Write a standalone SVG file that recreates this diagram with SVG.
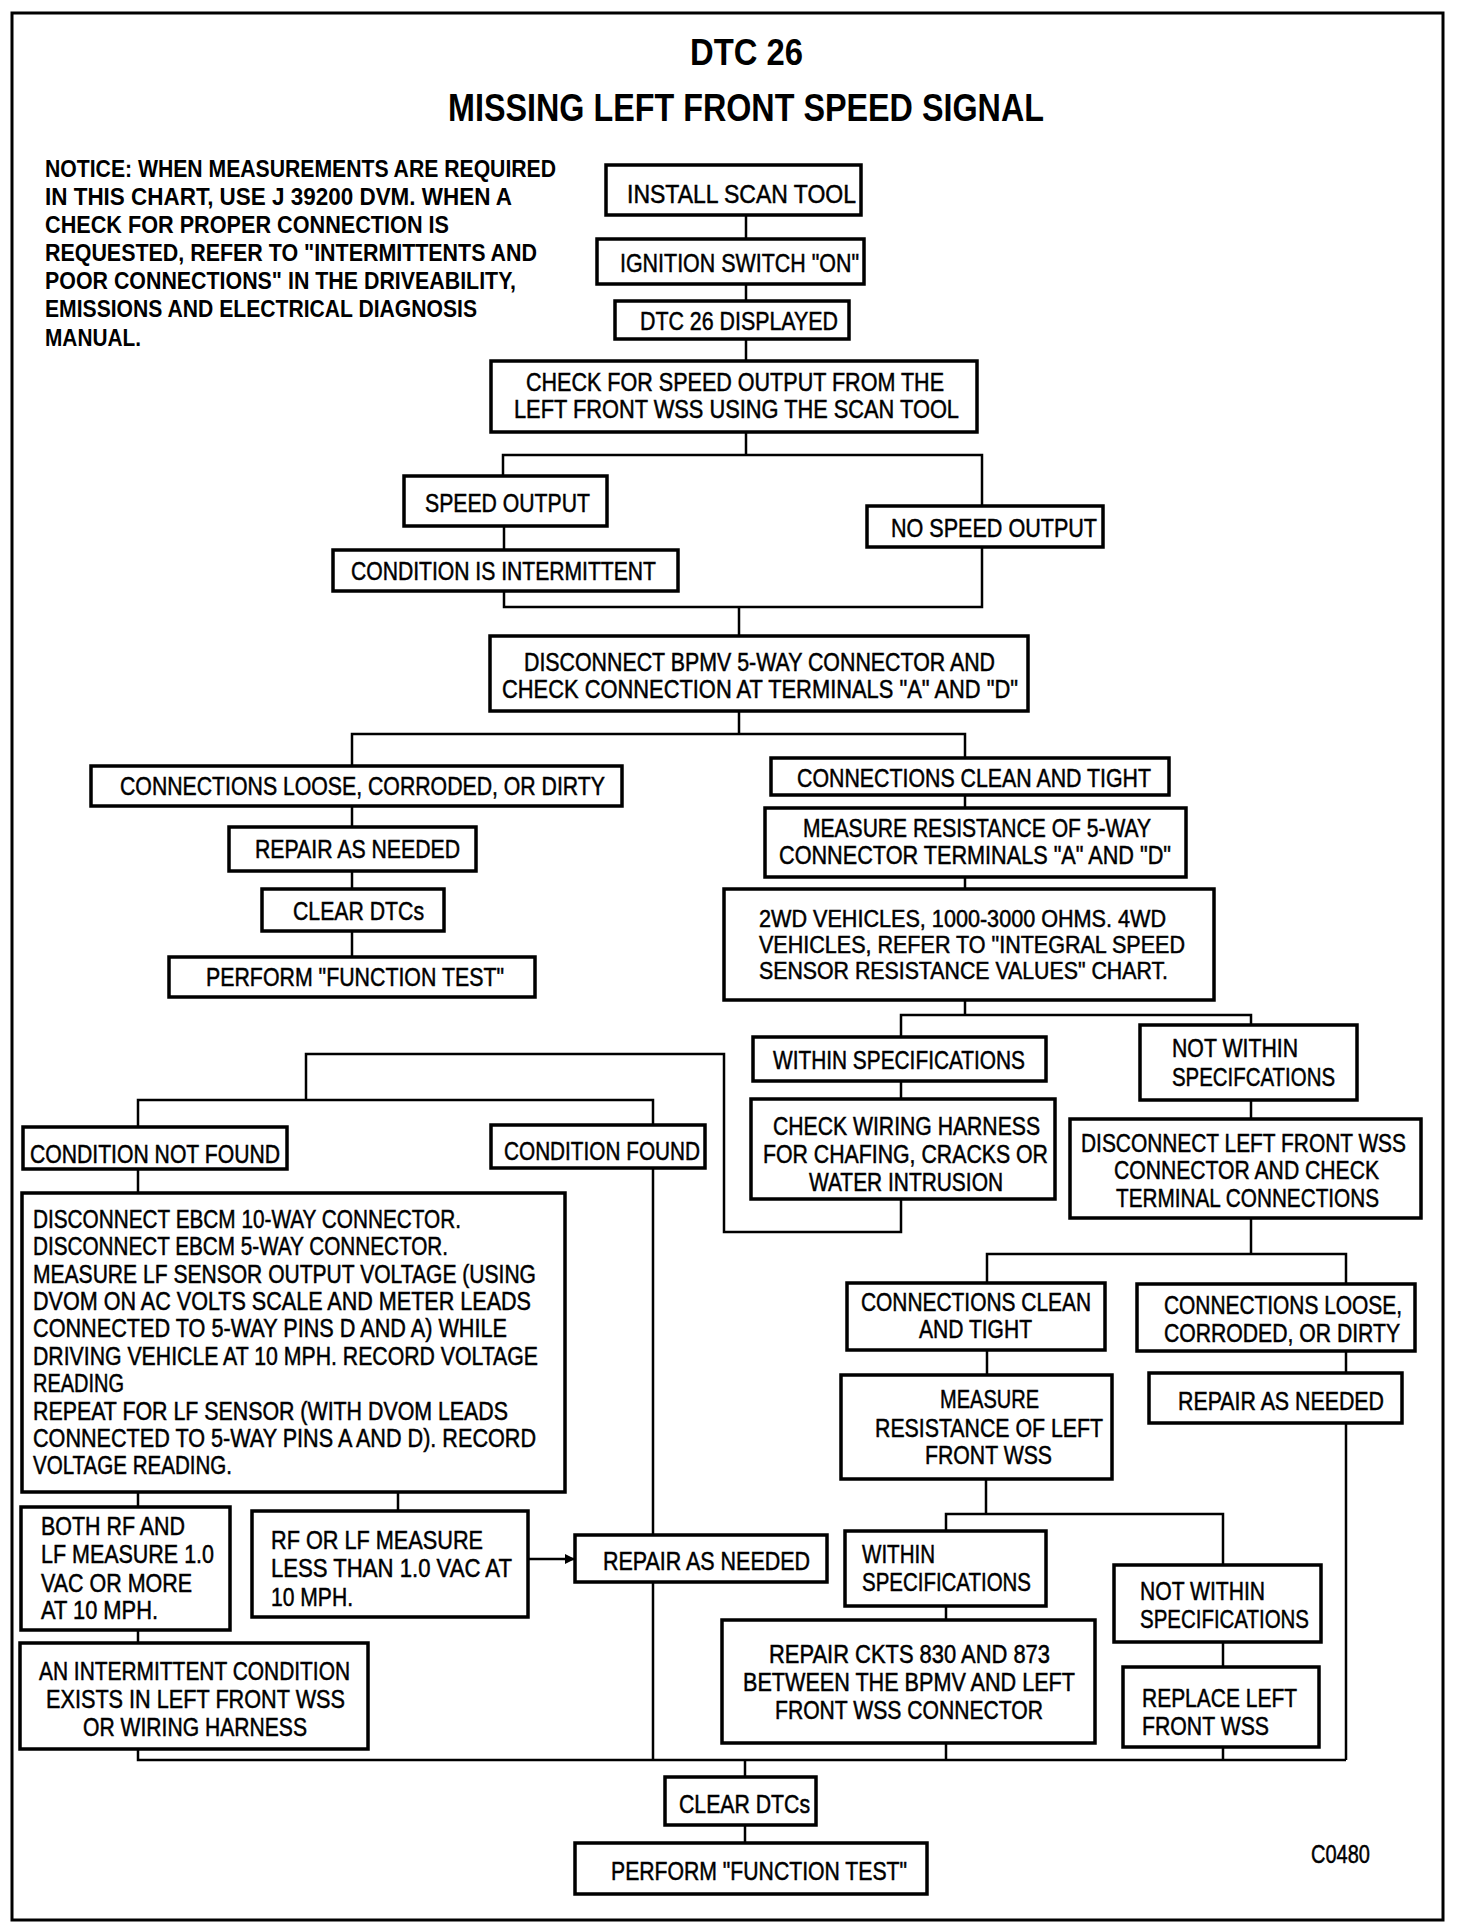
<svg xmlns="http://www.w3.org/2000/svg" width="1472" height="1930" viewBox="0 0 1472 1930">
<style>
.bg{fill:#fff}
.frame{fill:none;stroke:#000;stroke-width:3}
.box{fill:#fff;stroke:#000;stroke-width:3.5}
.t{font-family:"Liberation Sans Narrow","Liberation Sans",Arial,sans-serif;font-size:26px;fill:#000;stroke:#000;stroke-width:0.5}
.s{font-size:24px}
.n{font-family:"Liberation Sans Narrow","Liberation Sans",Arial,sans-serif;font-size:24px;font-weight:bold;fill:#000}
.h{font-family:"Liberation Sans Narrow","Liberation Sans",Arial,sans-serif;font-weight:bold;fill:#000}
.c{fill:none;stroke:#000;stroke-width:2.5}
</style>
<defs>
<marker id="arr" viewBox="0 0 10 10" refX="10" refY="5" markerWidth="4" markerHeight="4" orient="auto" markerUnits="strokeWidth">
<path d="M0,0 L10,5 L0,10 z" fill="#000"/>
</marker>
</defs>
<rect class="bg" x="0" y="0" width="1472" height="1930"/>
<rect class="frame" x="12" y="13" width="1431" height="1907"/>

<g id="title">
<text class="h" x="690" y="65" font-size="37" textLength="113" lengthAdjust="spacingAndGlyphs">DTC 26</text>
<text class="h" x="448" y="121" font-size="39" textLength="596" lengthAdjust="spacingAndGlyphs">MISSING LEFT FRONT SPEED SIGNAL</text>
</g>

<g id="notice">
<text class="n" x="45" y="177" textLength="511" lengthAdjust="spacingAndGlyphs">NOTICE: WHEN MEASUREMENTS ARE REQUIRED</text>
<text class="n" x="45" y="205" textLength="467" lengthAdjust="spacingAndGlyphs">IN THIS CHART, USE J 39200 DVM. WHEN A</text>
<text class="n" x="45" y="233" textLength="404" lengthAdjust="spacingAndGlyphs">CHECK FOR PROPER CONNECTION IS</text>
<text class="n" x="45" y="261" textLength="492" lengthAdjust="spacingAndGlyphs">REQUESTED, REFER TO "INTERMITTENTS AND</text>
<text class="n" x="45" y="289" textLength="471" lengthAdjust="spacingAndGlyphs">POOR CONNECTIONS" IN THE DRIVEABILITY,</text>
<text class="n" x="45" y="317" textLength="432" lengthAdjust="spacingAndGlyphs">EMISSIONS AND ELECTRICAL DIAGNOSIS</text>
<text class="n" x="45" y="346" textLength="96" lengthAdjust="spacingAndGlyphs">MANUAL.</text>
</g>

<g id="connectors">
<path class="c" d="M746,213 V240 M746,282 V302 M746,338 V361"/>
<path class="c" d="M746,431 V455 M503,476 V455 H982 V506"/>
<path class="c" d="M504,525 V550 M504,591 V607 H982 V546 M739,607 V636"/>
<path class="c" d="M739,710 V734 M352,766 V734 H965 V759"/>
<path class="c" d="M352,806 V827 M352,871 V889 M352,931 V957"/>
<path class="c" d="M965,795 V808 M965,877 V889 M965,1000 V1015 M901,1037 V1015 H1251 V1025"/>
<path class="c" d="M901,1081 V1099 M901,1199 V1232 H724 V1054 H306 V1100 M138,1127 V1100 H653 V1125"/>
<path class="c" d="M138,1169 V1193 M138,1492 V1507 M398,1492 V1511 M138,1630 V1643 M138,1749 V1760 H1346"/>
<path class="c" d="M653,1168 V1535 M653,1582 V1760"/>
<path class="c" d="M528,1559 H575" marker-end="url(#arr)"/>
<path class="c" d="M1251,1099 V1119 M1251,1218 V1254 M987,1283 V1254 H1346 V1284"/>
<path class="c" d="M987,1350 V1375 M1346,1351 V1373 M1346,1423 V1760"/>
<path class="c" d="M986,1479 V1514 M946,1531 V1514 H1223 V1565"/>
<path class="c" d="M946,1606 V1620 M946,1743 V1760 M1223,1642 V1667 M1223,1747 V1760"/>
<path class="c" d="M745,1760 V1777 M745,1825 V1843"/>
</g>

<g id="install-scan-tool">
<rect class="box" x="606" y="165" width="255" height="50"/>
<text class="t" x="627" y="203" textLength="229" lengthAdjust="spacingAndGlyphs">INSTALL SCAN TOOL</text>
</g>
<g id="ignition-switch-on">
<rect class="box" x="597" y="239" width="267" height="45"/>
<text class="t" x="620" y="272" textLength="239" lengthAdjust="spacingAndGlyphs">IGNITION SWITCH "ON"</text>
</g>
<g id="dtc26-displayed">
<rect class="box" x="615" y="301" width="234" height="38"/>
<text class="t" x="640" y="330" textLength="198" lengthAdjust="spacingAndGlyphs">DTC 26 DISPLAYED</text>
</g>
<g id="check-speed-output">
<rect class="box" x="491" y="361" width="486" height="71"/>
<text class="t" x="526" y="391" textLength="418" lengthAdjust="spacingAndGlyphs">CHECK FOR SPEED OUTPUT FROM THE</text>
<text class="t" x="514" y="418" textLength="445" lengthAdjust="spacingAndGlyphs">LEFT FRONT WSS USING THE SCAN TOOL</text>
</g>
<g id="speed-output">
<rect class="box" x="404" y="476" width="203" height="50"/>
<text class="t" x="425" y="512" textLength="165" lengthAdjust="spacingAndGlyphs">SPEED OUTPUT</text>
</g>
<g id="no-speed-output">
<rect class="box" x="867" y="506" width="236" height="41"/>
<text class="t" x="891" y="537" textLength="206" lengthAdjust="spacingAndGlyphs">NO SPEED OUTPUT</text>
</g>
<g id="condition-intermittent">
<rect class="box" x="333" y="550" width="345" height="41"/>
<text class="t" x="351" y="580" textLength="305" lengthAdjust="spacingAndGlyphs">CONDITION IS INTERMITTENT</text>
</g>
<g id="disconnect-bpmv">
<rect class="box" x="490" y="636" width="538" height="75"/>
<text class="t" x="524" y="671" textLength="471" lengthAdjust="spacingAndGlyphs">DISCONNECT BPMV 5-WAY CONNECTOR AND</text>
<text class="t" x="502" y="698" textLength="516" lengthAdjust="spacingAndGlyphs">CHECK CONNECTION AT TERMINALS "A" AND "D"</text>
</g>
<g id="connections-loose-1">
<rect class="box" x="91" y="766" width="531" height="40"/>
<text class="t" x="120" y="795" textLength="485" lengthAdjust="spacingAndGlyphs">CONNECTIONS LOOSE, CORRODED, OR DIRTY</text>
</g>
<g id="repair-1">
<rect class="box" x="229" y="827" width="247" height="44"/>
<text class="t" x="255" y="858" textLength="205" lengthAdjust="spacingAndGlyphs">REPAIR AS NEEDED</text>
</g>
<g id="clear-dtcs-1">
<rect class="box" x="262" y="889" width="182" height="42"/>
<text class="t" x="293" y="920" textLength="131" lengthAdjust="spacingAndGlyphs">CLEAR DTCs</text>
</g>
<g id="function-test-1">
<rect class="box" x="169" y="957" width="366" height="40"/>
<text class="t" x="206" y="986" textLength="298" lengthAdjust="spacingAndGlyphs">PERFORM "FUNCTION TEST"</text>
</g>
<g id="connections-clean-1">
<rect class="box" x="771" y="758" width="398" height="37"/>
<text class="t" x="797" y="787" textLength="354" lengthAdjust="spacingAndGlyphs">CONNECTIONS CLEAN AND TIGHT</text>
</g>
<g id="measure-5way">
<rect class="box" x="765" y="808" width="421" height="69"/>
<text class="t" x="803" y="837" textLength="348" lengthAdjust="spacingAndGlyphs">MEASURE RESISTANCE OF 5-WAY</text>
<text class="t" x="779" y="864" textLength="392" lengthAdjust="spacingAndGlyphs">CONNECTOR TERMINALS "A" AND "D"</text>
</g>
<g id="resistance-values">
<rect class="box" x="724" y="889" width="490" height="111"/>
<text class="t s" x="759" y="927" textLength="407" lengthAdjust="spacingAndGlyphs">2WD VEHICLES, 1000-3000 OHMS. 4WD</text>
<text class="t s" x="759" y="953" textLength="426" lengthAdjust="spacingAndGlyphs">VEHICLES, REFER TO "INTEGRAL SPEED</text>
<text class="t s" x="759" y="979" textLength="409" lengthAdjust="spacingAndGlyphs">SENSOR RESISTANCE VALUES" CHART.</text>
</g>
<g id="within-spec-1">
<rect class="box" x="753" y="1037" width="293" height="44"/>
<text class="t" x="773" y="1069" textLength="252" lengthAdjust="spacingAndGlyphs">WITHIN SPECIFICATIONS</text>
</g>
<g id="not-within-spec-1">
<rect class="box" x="1140" y="1025" width="217" height="75"/>
<text class="t" x="1172" y="1057" textLength="126" lengthAdjust="spacingAndGlyphs">NOT WITHIN</text>
<text class="t" x="1172" y="1086" textLength="163" lengthAdjust="spacingAndGlyphs">SPECIFCATIONS</text>
</g>
<g id="check-wiring">
<rect class="box" x="751" y="1099" width="304" height="100"/>
<text class="t" x="773" y="1135" textLength="267" lengthAdjust="spacingAndGlyphs">CHECK WIRING HARNESS</text>
<text class="t" x="763" y="1163" textLength="285" lengthAdjust="spacingAndGlyphs">FOR CHAFING, CRACKS OR</text>
<text class="t" x="809" y="1191" textLength="194" lengthAdjust="spacingAndGlyphs">WATER INTRUSION</text>
</g>
<g id="disconnect-lf-wss">
<rect class="box" x="1070" y="1119" width="351" height="99"/>
<text class="t" x="1081" y="1152" textLength="325" lengthAdjust="spacingAndGlyphs">DISCONNECT LEFT FRONT WSS</text>
<text class="t" x="1114" y="1179" textLength="265" lengthAdjust="spacingAndGlyphs">CONNECTOR AND CHECK</text>
<text class="t" x="1116" y="1207" textLength="263" lengthAdjust="spacingAndGlyphs">TERMINAL CONNECTIONS</text>
</g>
<g id="condition-not-found">
<rect class="box" x="23" y="1127" width="264" height="42"/>
<text class="t" x="30" y="1163" textLength="250" lengthAdjust="spacingAndGlyphs">CONDITION NOT FOUND</text>
</g>
<g id="condition-found">
<rect class="box" x="491" y="1125" width="214" height="43"/>
<text class="t" x="504" y="1160" textLength="196" lengthAdjust="spacingAndGlyphs">CONDITION FOUND</text>
</g>
<g id="disconnect-ebcm">
<rect class="box" x="22" y="1193" width="543" height="299"/>
<text class="t" x="33" y="1228" textLength="428" lengthAdjust="spacingAndGlyphs">DISCONNECT EBCM 10-WAY CONNECTOR.</text>
<text class="t" x="33" y="1255" textLength="415" lengthAdjust="spacingAndGlyphs">DISCONNECT EBCM 5-WAY CONNECTOR.</text>
<text class="t" x="33" y="1283" textLength="503" lengthAdjust="spacingAndGlyphs">MEASURE LF SENSOR OUTPUT VOLTAGE (USING</text>
<text class="t" x="33" y="1310" textLength="498" lengthAdjust="spacingAndGlyphs">DVOM ON AC VOLTS SCALE AND METER LEADS</text>
<text class="t" x="33" y="1337" textLength="474" lengthAdjust="spacingAndGlyphs">CONNECTED TO 5-WAY PINS D AND A) WHILE</text>
<text class="t" x="33" y="1365" textLength="505" lengthAdjust="spacingAndGlyphs">DRIVING VEHICLE AT 10 MPH. RECORD VOLTAGE</text>
<text class="t" x="33" y="1392" textLength="91" lengthAdjust="spacingAndGlyphs">READING</text>
<text class="t" x="33" y="1420" textLength="475" lengthAdjust="spacingAndGlyphs">REPEAT FOR LF SENSOR (WITH DVOM LEADS</text>
<text class="t" x="33" y="1447" textLength="503" lengthAdjust="spacingAndGlyphs">CONNECTED TO 5-WAY PINS A AND D). RECORD</text>
<text class="t" x="33" y="1474" textLength="199" lengthAdjust="spacingAndGlyphs">VOLTAGE READING.</text>
</g>
<g id="connections-clean-2">
<rect class="box" x="847" y="1283" width="258" height="67"/>
<text class="t" x="861" y="1311" textLength="230" lengthAdjust="spacingAndGlyphs">CONNECTIONS CLEAN</text>
<text class="t" x="919" y="1338" textLength="113" lengthAdjust="spacingAndGlyphs">AND TIGHT</text>
</g>
<g id="connections-loose-2">
<rect class="box" x="1137" y="1284" width="278" height="67"/>
<text class="t" x="1164" y="1314" textLength="238" lengthAdjust="spacingAndGlyphs">CONNECTIONS LOOSE,</text>
<text class="t" x="1164" y="1342" textLength="236" lengthAdjust="spacingAndGlyphs">CORRODED, OR DIRTY</text>
</g>
<g id="measure-lf-wss">
<rect class="box" x="841" y="1375" width="271" height="104"/>
<text class="t" x="940" y="1408" textLength="99" lengthAdjust="spacingAndGlyphs">MEASURE</text>
<text class="t" x="875" y="1437" textLength="228" lengthAdjust="spacingAndGlyphs">RESISTANCE OF LEFT</text>
<text class="t" x="925" y="1464" textLength="127" lengthAdjust="spacingAndGlyphs">FRONT WSS</text>
</g>
<g id="repair-3">
<rect class="box" x="1149" y="1373" width="253" height="50"/>
<text class="t" x="1178" y="1410" textLength="206" lengthAdjust="spacingAndGlyphs">REPAIR AS NEEDED</text>
</g>
<g id="both-rf-lf">
<rect class="box" x="21" y="1507" width="209" height="123"/>
<text class="t" x="41" y="1535" textLength="144" lengthAdjust="spacingAndGlyphs">BOTH RF AND</text>
<text class="t" x="41" y="1563" textLength="173" lengthAdjust="spacingAndGlyphs">LF MEASURE 1.0</text>
<text class="t" x="41" y="1592" textLength="151" lengthAdjust="spacingAndGlyphs">VAC OR MORE</text>
<text class="t" x="41" y="1619" textLength="117" lengthAdjust="spacingAndGlyphs">AT 10 MPH.</text>
</g>
<g id="rf-or-lf">
<rect class="box" x="252" y="1511" width="276" height="106"/>
<text class="t" x="271" y="1549" textLength="212" lengthAdjust="spacingAndGlyphs">RF OR LF MEASURE</text>
<text class="t" x="271" y="1577" textLength="241" lengthAdjust="spacingAndGlyphs">LESS THAN 1.0 VAC AT</text>
<text class="t" x="271" y="1606" textLength="82" lengthAdjust="spacingAndGlyphs">10 MPH.</text>
</g>
<g id="repair-2">
<rect class="box" x="575" y="1535" width="252" height="47"/>
<text class="t" x="603" y="1570" textLength="207" lengthAdjust="spacingAndGlyphs">REPAIR AS NEEDED</text>
</g>
<g id="within-spec-2">
<rect class="box" x="845" y="1531" width="201" height="75"/>
<text class="t" x="862" y="1563" textLength="73" lengthAdjust="spacingAndGlyphs">WITHIN</text>
<text class="t" x="862" y="1591" textLength="169" lengthAdjust="spacingAndGlyphs">SPECIFICATIONS</text>
</g>
<g id="not-within-spec-2">
<rect class="box" x="1114" y="1565" width="207" height="77"/>
<text class="t" x="1140" y="1600" textLength="125" lengthAdjust="spacingAndGlyphs">NOT WITHIN</text>
<text class="t" x="1140" y="1628" textLength="169" lengthAdjust="spacingAndGlyphs">SPECIFICATIONS</text>
</g>
<g id="repair-ckts">
<rect class="box" x="722" y="1620" width="373" height="123"/>
<text class="t" x="769" y="1663" textLength="281" lengthAdjust="spacingAndGlyphs">REPAIR CKTS 830 AND 873</text>
<text class="t" x="743" y="1691" textLength="332" lengthAdjust="spacingAndGlyphs">BETWEEN THE BPMV AND LEFT</text>
<text class="t" x="775" y="1719" textLength="268" lengthAdjust="spacingAndGlyphs">FRONT WSS CONNECTOR</text>
</g>
<g id="replace-lf-wss">
<rect class="box" x="1123" y="1667" width="196" height="80"/>
<text class="t" x="1142" y="1707" textLength="155" lengthAdjust="spacingAndGlyphs">REPLACE LEFT</text>
<text class="t" x="1142" y="1735" textLength="127" lengthAdjust="spacingAndGlyphs">FRONT WSS</text>
</g>
<g id="intermittent-exists">
<rect class="box" x="20" y="1643" width="348" height="106"/>
<text class="t" x="39" y="1680" textLength="311" lengthAdjust="spacingAndGlyphs">AN INTERMITTENT CONDITION</text>
<text class="t" x="46" y="1708" textLength="299" lengthAdjust="spacingAndGlyphs">EXISTS IN LEFT FRONT WSS</text>
<text class="t" x="83" y="1736" textLength="224" lengthAdjust="spacingAndGlyphs">OR WIRING HARNESS</text>
</g>
<g id="clear-dtcs-2">
<rect class="box" x="665" y="1777" width="151" height="48"/>
<text class="t" x="679" y="1813" textLength="131" lengthAdjust="spacingAndGlyphs">CLEAR DTCs</text>
</g>
<g id="function-test-2">
<rect class="box" x="575" y="1843" width="352" height="51"/>
<text class="t" x="611" y="1880" textLength="296" lengthAdjust="spacingAndGlyphs">PERFORM "FUNCTION TEST"</text>
</g>
<g id="figure-code">
<text class="t" x="1311" y="1863" textLength="59" lengthAdjust="spacingAndGlyphs">C0480</text>
</g>
</svg>
